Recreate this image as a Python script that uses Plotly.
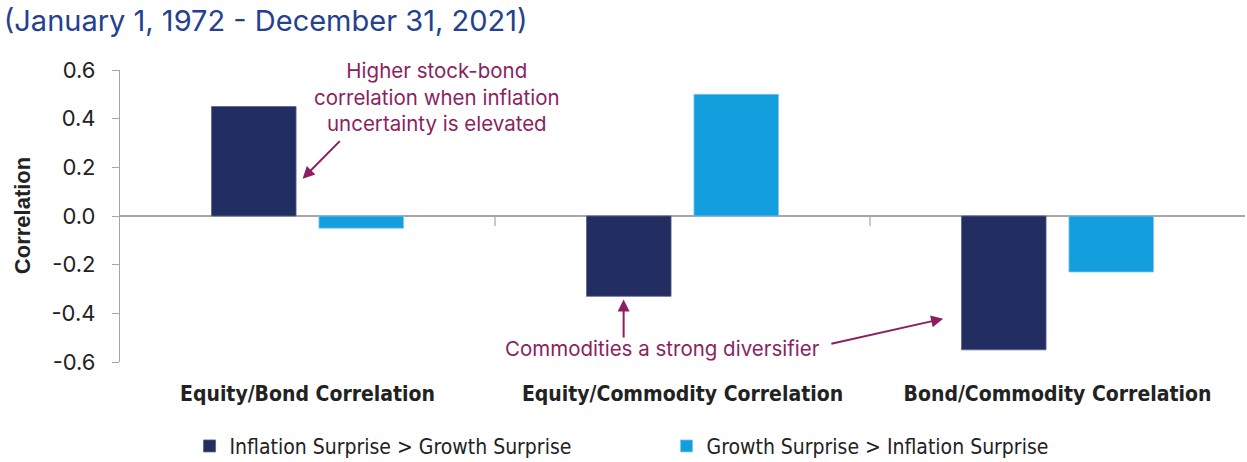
import plotly.graph_objects as go

categories = ["Equity/Bond Correlation", "Equity/Commodity Correlation", "Bond/Commodity Correlation"]
series_names = ["Inflation Surprise > Growth Surprise", "Growth Surprise > Inflation Surprise"]
inflation_vals = [0.45, -0.33, -0.55]
growth_vals = [-0.05, 0.50, -0.23]
y_tickvals = [0.6, 0.4, 0.2, 0.0, -0.2, -0.4, -0.6]
y_ticktext = ["0.6", "0.4", "0.2", "0.0", "-0.2", "-0.4", "-0.6"]

NAVY = "#222D61"
BLUE = "#139FDD"
PURPLE = "#8B1F5F"
GREY = "#A6A6A6"
TXT = "#222222"
COND = "DejaVu Sans Condensed, Liberation Sans Narrow, Arial Narrow, sans-serif"

fig = go.Figure()
fig.add_trace(go.Bar(x=categories, y=inflation_vals, name=series_names[0],
                     marker=dict(color=NAVY, line=dict(color="#5A6285", width=0.8))))
fig.add_trace(go.Bar(x=categories, y=growth_vals, name=series_names[1],
                     marker=dict(color=BLUE, line=dict(color="#7FC8EA", width=0.8))))

# category boundary ticks on the zero line
for i in range(1, len(categories)):
    fig.add_shape(type="line", xref="x", yref="y", x0=i - 0.5, x1=i - 0.5,
                  ysizemode="pixel", yanchor=0, y0=0, y1=-10,
                  line=dict(color=GREY, width=1.2))

ann_font = dict(family="Inter, Open Sans, sans-serif", size=20.5, color=PURPLE)
fig.add_annotation(x=0.345, y=0.49, xref="x", yref="y", showarrow=False,
                   text="Higher stock-bond<br>correlation when inflation<br>uncertainty is elevated",
                   font=ann_font, align="center")
fig.add_annotation(x=-0.013, y=0.153, ax=0.09, ay=0.314, xref="x", yref="y",
                   axref="x", ayref="y", text="", showarrow=True,
                   arrowhead=2, arrowsize=1.2, arrowwidth=2, arrowcolor=PURPLE)
fig.add_annotation(x=0.947, y=-0.546, xref="x", yref="y", showarrow=False,
                   text="Commodities a strong diversifier", font=ann_font)
fig.add_annotation(x=0.843, y=-0.343, ax=0.843, ay=-0.505, xref="x", yref="y",
                   axref="x", ayref="y", text="", showarrow=True,
                   arrowhead=2, arrowsize=1.2, arrowwidth=2, arrowcolor=PURPLE)
fig.add_annotation(x=1.695, y=-0.422, ax=1.393, ay=-0.526, xref="x", yref="y",
                   axref="x", ayref="y", text="", showarrow=True,
                   arrowhead=2, arrowsize=1.2, arrowwidth=2, arrowcolor=PURPLE)

# y axis title
fig.add_annotation(xref="paper", yref="paper", x=-0.087, y=0.5, xanchor="center",
                   yanchor="middle", text="<b>Correlation</b>", textangle=-90,
                   showarrow=False, font=dict(family="Liberation Sans, Arial", size=22, color=TXT))

fig.update_layout(
    width=1247, height=462,
    margin=dict(l=120, r=2, t=70, b=100),
    paper_bgcolor="white", plot_bgcolor="white",
    barmode="group", bargap=0.427, bargroupgap=0.213,
    title=dict(text="(January 1, 1972 - December 31, 2021)", x=0.003, xanchor="left",
               y=0.955, yanchor="middle", yref="container",
               font=dict(family="Inter, Open Sans, sans-serif", size=29, color="#24418F")),
    xaxis=dict(showline=False, showgrid=False, ticks="", zeroline=False,
               tickfont=dict(family=COND, size=21, color=TXT),
               ticklabelstandoff=17, tickprefix="<b>", ticksuffix="</b>"),
    yaxis=dict(range=[-0.6, 0.6], tickvals=y_tickvals, ticktext=y_ticktext,
               showline=True, linecolor=GREY, linewidth=1.2, ticks="outside", ticklen=7,
               tickcolor=GREY, showgrid=False, zeroline=True, zerolinecolor=GREY, zerolinewidth=1.5,
               tickfont=dict(family="Inter, Open Sans, sans-serif", size=22, color=TXT),
               ticklabelstandoff=12),
    legend=dict(orientation="h", xref="container", yref="container", x=0.152, y=0.034,
                xanchor="left", yanchor="middle", entrywidth=432, entrywidthmode="pixels",
                font=dict(family=COND, size=21, color=TXT),
                traceorder="normal"),
    showlegend=True,
)

fig.write_html("out.html")
